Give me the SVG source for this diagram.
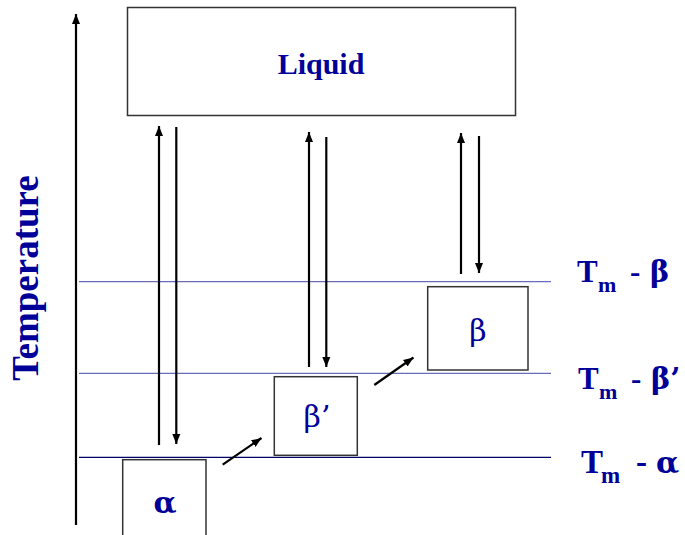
<svg xmlns="http://www.w3.org/2000/svg" width="685" height="535" viewBox="0 0 685 535">
  <defs>
    <marker id="ah" markerUnits="userSpaceOnUse" markerWidth="10" markerHeight="10" viewBox="0 0 10 10" refX="10" refY="5" orient="auto">
      <path d="M0,1 L10,5 L0,9 Z" fill="#000"/>
    </marker>
    <style>
      .box { fill: #fff; stroke: #333; stroke-width: 1.5; }
      .arr { stroke: #000; stroke-width: 2.2; fill: none; marker-end: url(#ah); }
      .txt { font-family: "Liberation Serif", "Times New Roman", serif; fill: #000099; }
      .gk { font-family: "DejaVu Serif", "Liberation Serif", serif; }
      .b { font-weight: bold; }
    </style>
  </defs>
  <rect width="685" height="535" fill="#fff"/>

  <!-- axis -->
  <g id="axis">
    <line x1="76" y1="525" x2="76" y2="14" class="arr" stroke-width="2.6"/>
    <text class="txt b" font-size="37" transform="translate(38,278) rotate(-90)" text-anchor="middle">Temperature</text>
  </g>

  <!-- level lines -->
  <g id="levels">
    <line x1="79" y1="281.7" x2="551" y2="281.7" stroke="#6b6bbb" stroke-width="1.3"/>
    <line x1="79" y1="373.3" x2="551" y2="373.3" stroke="#6b6bbb" stroke-width="1.3"/>
    <line x1="79" y1="457.3" x2="551" y2="457.3" stroke="#000066" stroke-width="1.3"/>
  </g>

  <g id="liquid">
    <rect class="box" x="127.5" y="7.5" width="388" height="108"/>
    <text class="txt b" font-size="30" x="321" y="74" text-anchor="middle">Liquid</text>
  </g>

  <g id="alpha">
    <rect class="box" x="122.7" y="459.7" width="83.3" height="90"/>
    <text class="txt gk b" font-size="30" x="165" y="513" text-anchor="middle">α</text>
  </g>

  <g id="betaprime">
    <rect class="box" x="274.3" y="376.7" width="83" height="78.6"/>
    <text class="txt gk" font-size="30" x="317" y="427" text-anchor="middle">β’</text>
  </g>

  <g id="beta">
    <rect class="box" x="427.7" y="286.7" width="100.3" height="83.3"/>
    <text class="txt gk" font-size="30" x="478" y="341" text-anchor="middle">β</text>
  </g>

  <g id="connectors">
    <line class="arr" x1="159" y1="445" x2="159" y2="126"/>
    <line class="arr" x1="176.3" y1="127" x2="176.3" y2="444"/>
    <line class="arr" x1="309" y1="367" x2="309" y2="132"/>
    <line class="arr" x1="326.3" y1="137" x2="326.3" y2="367"/>
    <line class="arr" x1="461" y1="274" x2="461" y2="133"/>
    <line class="arr" x1="479" y1="136" x2="479" y2="273"/>
    <line class="arr" x1="222.7" y1="464.7" x2="261.5" y2="438"/>
    <line class="arr" x1="374.3" y1="385" x2="413.5" y2="357.5"/>
  </g>

  <g id="labels">
    <text class="txt b" font-size="31" y="282"><tspan x="577">T</tspan><tspan x="598" font-size="22" dy="10">m</tspan><tspan x="630" dy="-10">-</tspan><tspan class="gk" x="650" font-size="29">β</tspan></text>
    <text class="txt b" font-size="31" y="389"><tspan x="578">T</tspan><tspan x="599" font-size="22" dy="10">m</tspan><tspan x="631" dy="-10">-</tspan><tspan class="gk" x="651" font-size="29">β’</tspan></text>
    <text class="txt b" font-size="33" y="473"><tspan x="581">T</tspan><tspan x="601" font-size="23" dy="10">m</tspan><tspan x="636" dy="-10">-</tspan><tspan class="gk" x="656" font-size="30">α</tspan></text>
  </g>
</svg>
